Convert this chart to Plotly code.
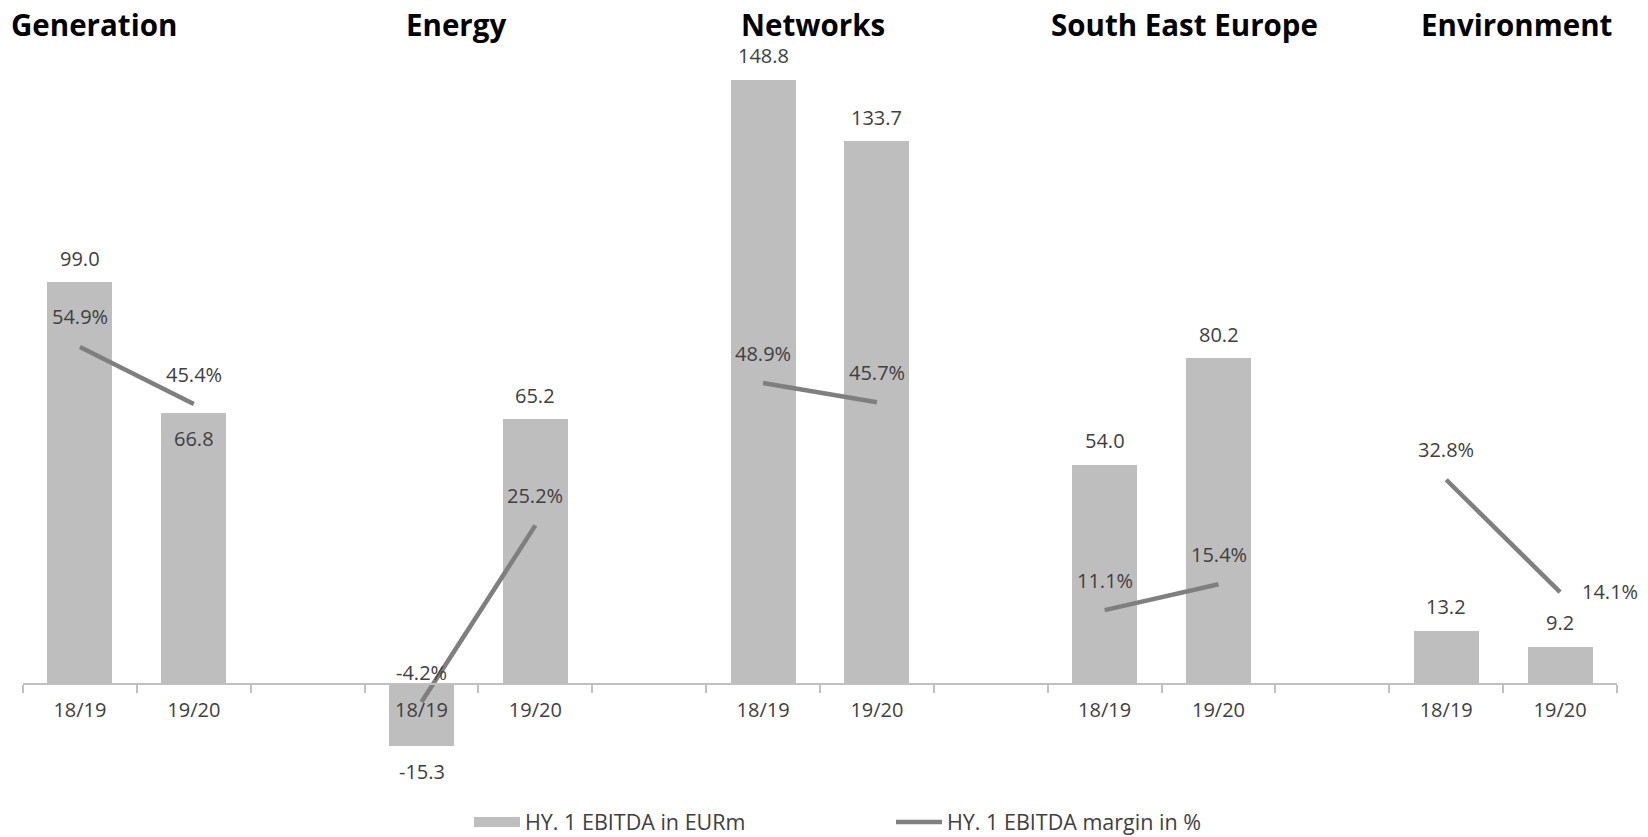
import plotly.graph_objects as go

# Segments and reporting periods
groups = ["Generation", "Energy", "Networks", "South East Europe", "Environment"]
periods = ["18/19", "19/20"]

# HY. 1 EBITDA in EURm
ebitda_1819 = [99.0, -15.3, 148.8, 54.0, 13.2]
ebitda_1920 = [66.8, 65.2, 133.7, 80.2, 9.2]

# HY. 1 EBITDA margin in %
margin_1819 = [54.9, -4.2, 48.9, 11.1, 32.8]
margin_1920 = [45.4, 25.2, 45.7, 15.4, 14.1]

# Layout constants
W, H = 1648, 837
ML, MR, MT, MB = 23, 31, 40, 57
BAR_COLOR = "#bebebe"
LINE_COLOR = "#7f7f7f"
TEXT_COLOR = "#404040"
AXIS_COLOR = "#c0c0c0"
FONT = "Open Sans"
Y1_RANGE = [-23.6, 158.6]
Y2_RANGE = [-17.18, 106.0]
TITLE_X = [0.124, 3.303, 6.438, 9.697, 12.62]

SLOTS_PER_GROUP = 3
n_slots = SLOTS_PER_GROUP * len(groups) - 1

# Each segment occupies two slots followed by an empty spacer slot
bar_x, bar_y, tick_text = [], [], []
line_x, line_y = [], []
for g in range(len(groups)):
    vals = [ebitda_1819[g], ebitda_1920[g]]
    margins = [margin_1819[g], margin_1920[g]]
    for k in range(2):
        xpos = SLOTS_PER_GROUP * g + k
        bar_x.append(xpos)
        bar_y.append(vals[k])
        tick_text.append(periods[k])
        line_x.append(xpos)
        line_y.append(margins[k])
    line_x.append(None)
    line_y.append(None)

fig = go.Figure()

fig.add_trace(go.Bar(
    x=bar_x, y=bar_y, width=0.57,
    marker=dict(color=BAR_COLOR, line=dict(width=0)),
    showlegend=False, hoverinfo="skip",
))

fig.add_trace(go.Scatter(
    x=line_x, y=line_y, yaxis="y2", mode="lines",
    line=dict(color=LINE_COLOR, width=4.5),
    connectgaps=False, showlegend=False, hoverinfo="skip",
))

# Legend entries
fig.add_trace(go.Scatter(
    x=[None], y=[None], mode="lines",
    line=dict(color=BAR_COLOR, width=11),
    name="HY. 1 EBITDA in EURm",
))
fig.add_trace(go.Scatter(
    x=[None], y=[None], mode="lines", yaxis="y2",
    line=dict(color=LINE_COLOR, width=4.5),
    name="HY. 1 EBITDA margin in %",
))

annotations = []

# Segment titles
for g, name in enumerate(groups):
    annotations.append(dict(
        x=TITLE_X[g], xref="x", y=(H - MB - 24) / (H - MT - MB), yref="paper",
        text=f"<b>{name}</b>", showarrow=False, xanchor="center", yanchor="middle",
        font=dict(family=FONT, size=29.5, color="#000000"),
    ))

# EBITDA value labels
for i, (xv, yv) in enumerate(zip(bar_x, bar_y)):
    shift = 24
    if yv < 0:
        shift = -25
    elif i == 1:
        shift = -26
    annotations.append(dict(
        x=xv, y=yv, xref="x", yref="y", text=f"{yv:.1f}", showarrow=False,
        yshift=shift, font=dict(family=FONT, size=20, color=TEXT_COLOR),
    ))

# Margin labels
for xv, yv in zip(line_x, line_y):
    if xv is None:
        continue
    xs, ys = 0, 30
    if xv == n_slots - 1:
        xs, ys = 50, 1
    annotations.append(dict(
        x=xv, y=yv, xref="x", yref="y2", text=f"{yv:.1f}%", showarrow=False,
        xshift=xs, yshift=ys, font=dict(family=FONT, size=20, color=TEXT_COLOR),
    ))

zero_pos = (0 - Y1_RANGE[0]) / (Y1_RANGE[1] - Y1_RANGE[0])
boundaries = [b - 0.5 for b in range(n_slots + 1)]

fig.update_layout(
    width=W, height=H,
    margin=dict(l=ML, r=MR, t=MT, b=MB, autoexpand=False),
    paper_bgcolor="white", plot_bgcolor="white",
    font=dict(family=FONT, color=TEXT_COLOR),
    bargap=0,
    xaxis=dict(
        range=[-0.5, n_slots - 0.5],
        anchor="free", position=zero_pos,
        tickmode="array", tickvals=bar_x, ticktext=tick_text,
        ticks="", showgrid=False, zeroline=False,
        showline=True, linecolor=AXIS_COLOR, linewidth=1.5,
        tickfont=dict(family=FONT, size=20, color=TEXT_COLOR),
        ticklabelstandoff=8,
        minor=dict(tickmode="array", tickvals=boundaries, ticks="outside",
                   ticklen=8, tickcolor=AXIS_COLOR, tickwidth=1.5, showgrid=False),
    ),
    yaxis=dict(range=Y1_RANGE, visible=False),
    yaxis2=dict(range=Y2_RANGE, visible=False, overlaying="y"),
    legend=dict(
        orientation="h", x=(469 - ML) / (W - ML - MR), xanchor="left",
        y=(H - MB - 822) / (H - MT - MB), yanchor="middle",
        font=dict(family=FONT, size=21.5, color=TEXT_COLOR),
        entrywidth=361, entrywidthmode="pixels", itemwidth=46,
        bgcolor="rgba(0,0,0,0)",
    ),
    annotations=annotations,
)

fig.write_html("out.html")
